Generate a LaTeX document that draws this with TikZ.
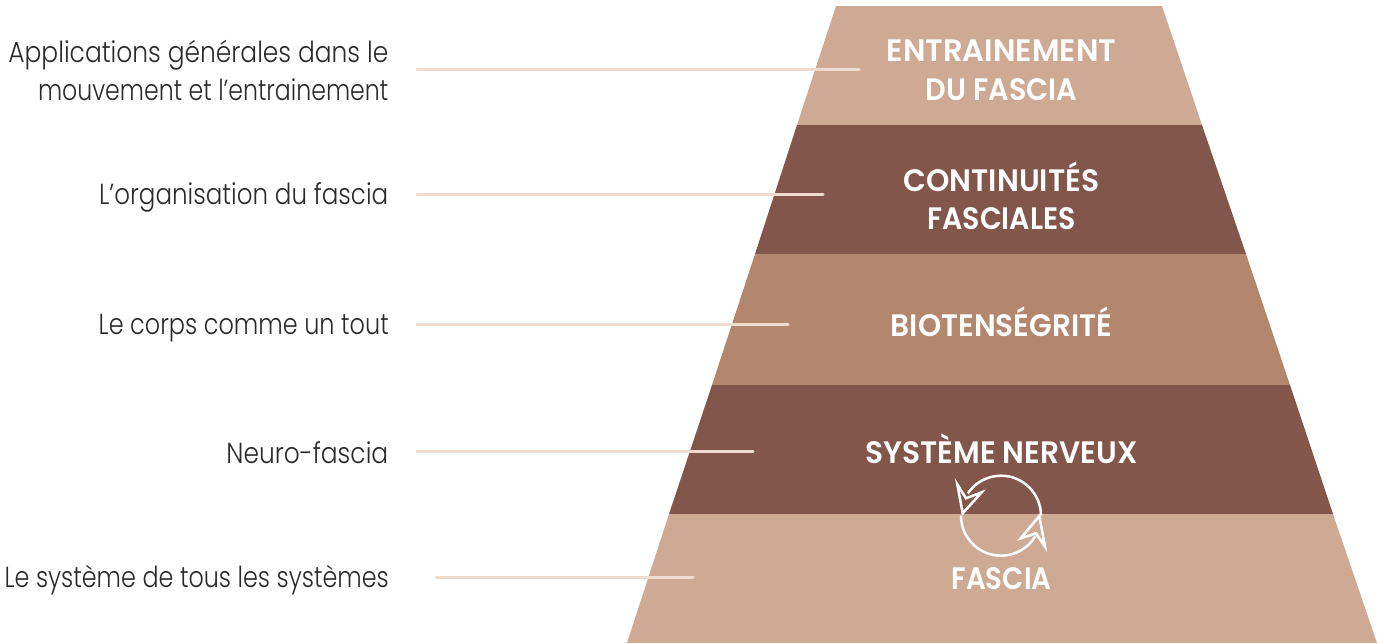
\documentclass[tikz,border=0pt]{standalone}
\usepackage{graphicx}
\usepackage{fontspec}
\setmainfont{Poppins}
\newfontfamily\lightf{Poppins Light}[FakeStretch=0.86]
\newfontfamily\medf{Poppins SemiBold}[FakeStretch=0.98]
\newcommand{\hsq}[2]{\scalebox{#1}[1]{#2}}
\definecolor{bandlight}{HTML}{CEA993}
\definecolor{bandmid}{HTML}{B3876E}
\definecolor{banddark}{HTML}{82564A}
\definecolor{leader}{HTML}{F0DCCE}
\definecolor{labeltext}{HTML}{2B2A29}
\tikzset{
  x=1pt,y=-1pt,
  side/.style={anchor=east,align=right,text=labeltext,inner sep=0pt,font=\lightf\fontsize{29}{38}\selectfont},
  title/.style={anchor=center,align=center,text=white,inner sep=0pt,font=\medf\fontsize{31}{38.5}\selectfont},
  leaderline/.style={draw=leader,line width=3pt,line cap=round},
  cycle/.style={draw=white,line width=2.5pt,line join=miter},
}
\begin{document}
\begin{tikzpicture}
\useasboundingbox (0,0) rectangle (1384,643);
\fill[bandlight] (836,6) -- (1162,6) -- (1202,125) -- (797,125) -- cycle;
\fill[banddark] (797,125) -- (1202,125) -- (1246,254) -- (755,254) -- cycle;
\fill[bandmid] (755,254) -- (1246,254) -- (1290,385) -- (712,385) -- cycle;
\fill[banddark] (712,385) -- (1290,385) -- (1333,514) -- (669,514) -- cycle;
\fill[bandlight] (669,514) -- (1333,514) -- (1377,643) -- (627,643) -- cycle;

\node[title] (t1) at (1001.5,70.5) {\hsq{1.008}{ENTRAINEMENT}\\\hsq{.945}{DU FASCIA}};
\node[title] (t2) at (1001.5,196) {\hsq{.98}{CONTINUITÉS}\\\hsq{.936}{FASCIALES}};
\node[title] (t3) at (1001.5,322) {\hsq{.973}{BIOTENSÉGRITÉ}};
\node[title] (t4) at (1001.5,449) {\hsq{.978}{SYSTÈME NERVEUX}};
\node[title] (t5) at (1001.5,579) {\hsq{.91}{FASCIA}};

\node[side] (s1) at (388.5,70) {Applications générales dans le\\\hsq{.948}{mouvement et l’entrainement}};
\node[side] (s2) at (388.5,197) {\hsq{.986}{L’organisation du fascia}};
\node[side] (s3) at (389,328) {\hsq{.96}{Le corps comme un tout}};
\node[side] (s4) at (388.5,453) {Neuro-fascia};
\node[side] (s5) at (389,580) {\hsq{.957}{Le système de tous les systèmes}};

\coordinate (a1) at (417,69); \coordinate (b1) at (859,69);
\coordinate (a2) at (417,194); \coordinate (b2) at (823,194);
\coordinate (a3) at (417,324); \coordinate (b3) at (788,324);
\coordinate (a4) at (417,451); \coordinate (b4) at (753,451);
\coordinate (a5) at (436,577); \coordinate (b5) at (693,577);
\draw[leaderline] (a1) -- (b1);
\draw[leaderline] (a2) -- (b2);
\draw[leaderline] (a3) -- (b3);
\draw[leaderline] (a4) -- (b4);
\draw[leaderline] (a5) -- (b5);

\draw[cycle] (1041,515.7) arc[start angle=0,end angle=-146,radius=40];
\draw[cycle] (966,498.3) -- (957.3,484.3) -- (962.7,513.3) -- (981.7,492.3) -- cycle;
\draw[cycle] (961,515.7) arc[start angle=180,end angle=31,radius=40];
\draw[cycle] (1036,533.3) -- (1045,546.7) -- (1039.3,516) -- (1020.7,538.3) -- cycle;
\end{tikzpicture}
\end{document}
